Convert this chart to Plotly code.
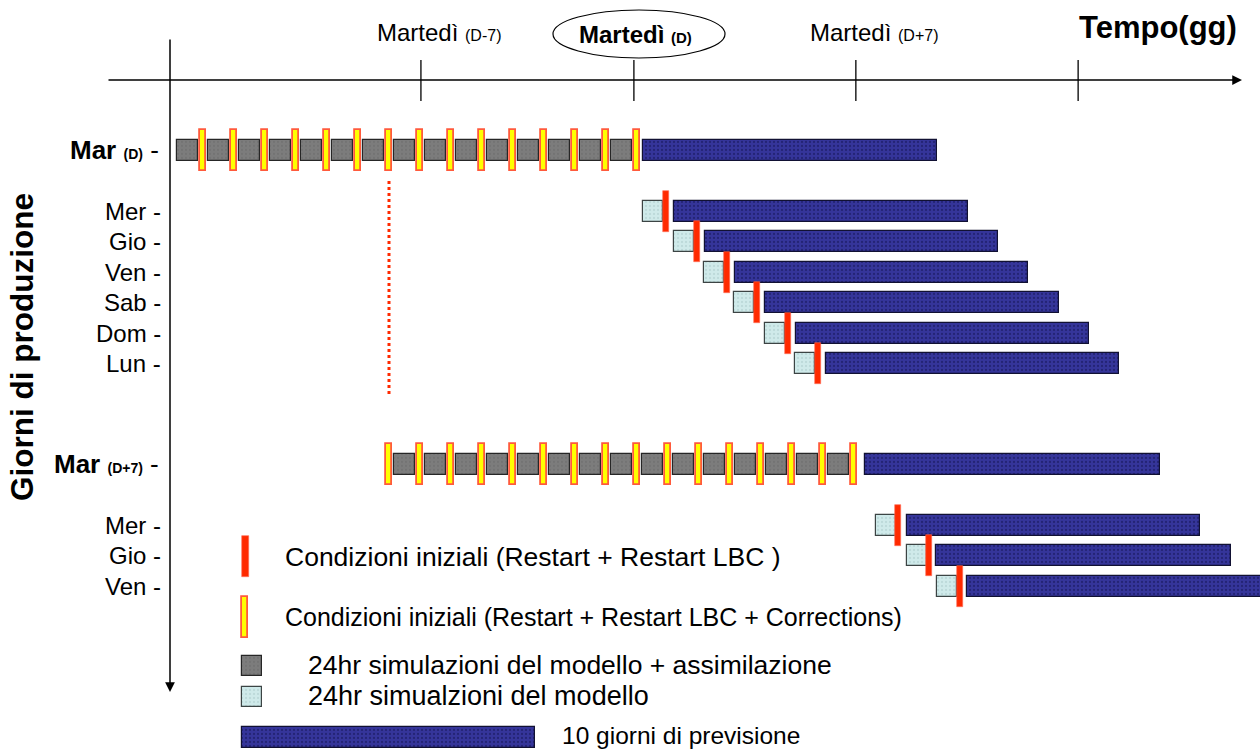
import plotly.graph_objects as go

# ---------------- data (days relative to Tuesday D; rows top->bottom) ----------------
row_names = ["Mar", "Mer", "Gio", "Ven", "Sab", "Dom", "Lun", "Mar", "Mer", "Gio", "Ven"]
row_tags = ["(D)", "", "", "", "", "", "", "(D+7)", "", "", ""]
row_pos = [0, 2, 3, 4, 5, 6, 7, 10.3, 12.3, 13.3, 14.3]

# 10-day forecast bars (start/end day for each row)
forecast_start = [0.19, 1.19, 2.19, 3.16, 4.13, 5.13, 6.10, 7.35, 8.71, 9.65, 10.65]
forecast_end = [9.68, 10.68, 11.65, 12.61, 13.61, 14.58, 15.55, 16.87, 18.16, 19.16, 20.40]

# daily runs: 24h model simulation (light cyan) + restart (red)
daily_row_pos = [2, 3, 4, 5, 6, 7, 12.3, 13.3, 14.3]
model_start = [0.19, 1.19, 2.16, 3.13, 4.13, 5.10, 7.71, 8.71, 9.68]
restart_day = [0.94, 1.94, 2.90, 3.87, 4.87, 5.84, 8.42, 9.42, 10.42]

# weekly runs: 24h simulation + assimilation (grey) and restart+corrections (yellow)
assim_days_D = [-15, -14, -13, -12, -11, -10, -9, -8, -7, -6, -5, -4, -3, -2, -1]
corr_days_D = [-14, -13, -12, -11, -10, -9, -8, -7, -6, -5, -4, -3, -2, -1, 0]
assim_days_D7 = [-8, -7, -6, -5, -4, -3, -2, -1, 0, 1, 2, 3, 4, 5, 6]
corr_days_D7 = [-8, -7, -6, -5, -4, -3, -2, -1, 0, 1, 2, 3, 4, 5, 6, 7]

tick_days = [-6.97, -0.10, 7.06, 14.23]
tick_main = ["Martedì", "Martedì", "Martedì"]
tick_tags = ["(D-7)", "(D)", "(D+7)"]

legend_texts = [
    "Condizioni iniziali (Restart + Restart LBC )",
    "Condizioni iniziali (Restart + Restart LBC + Corrections)",
    "24hr simulazioni del modello + assimilazione",
    "24hr simualzioni del modello",
    "10 giorni di previsione",
]

# ---------------- geometry / style ----------------
W, H = 1260, 749
PX0, PXD = 637.0, 31.0      # pixel of day 0, pixels per day
PY0, PYR = 150.0, 30.5      # pixel of row 0, pixels per row
def dx(px): return (px - PX0) / PXD
def dy(py): return (py - PY0) / PYR

FONT = "Liberation Sans, Arial, sans-serif"
BOX_H = 21 / PYR
MARK_H = 41 / PYR
MARK_W = 6 / PXD
BOX_OFF, BOX_W = 0.16, 0.68
CYAN_W = 0.65

BLUE = "#35359a"; BLUE_DOT = "#12124f"
GREY = "#7c7c7c"; GREY_DOT = "#6a6a6a"
CYAN = "#cfeaea"; CYAN_DOT = "#a9c9c9"
RED = "#ff2a00"; YEL = "#ffff00"; YEL_EDGE = "#ff5a3c"

fig = go.Figure()

def hbar(bases, lengths, ys, thick, color, dot=None, line_color=None, line_w=0):
    marker = dict(color=color, line=dict(color=line_color or color, width=line_w))
    if dot:
        marker["pattern"] = dict(shape=".", fgcolor=dot, bgcolor=color, size=4, solidity=0.25)
    fig.add_trace(go.Bar(orientation="h", base=bases, x=lengths, y=ys, width=thick,
                         marker=marker, showlegend=False, hoverinfo="skip"))

# forecast bars
hbar(forecast_start, [e - s for s, e in zip(forecast_start, forecast_end)], row_pos,
     BOX_H, BLUE, BLUE_DOT, "#111133", 1.2)
# daily model sims
hbar(model_start, [CYAN_W] * len(model_start), daily_row_pos, BOX_H, CYAN, CYAN_DOT, "#3c4444", 1.2)
# assimilation boxes
a_days = assim_days_D + assim_days_D7
a_rows = [row_pos[0]] * len(assim_days_D) + [row_pos[7]] * len(assim_days_D7)
hbar([d + BOX_OFF for d in a_days], [BOX_W] * len(a_days), a_rows, BOX_H, GREY, GREY_DOT, "#262626", 1.2)
# restarts (red)
hbar([d - MARK_W / 2 for d in restart_day], [MARK_W] * len(restart_day), daily_row_pos, MARK_H, RED, None, "#ff6a55", 0.6)
# restarts + corrections (yellow)
c_days = corr_days_D + corr_days_D7
c_rows = [row_pos[0]] * len(corr_days_D) + [row_pos[7]] * len(corr_days_D7)
hbar([d - MARK_W / 2 for d in c_days], [MARK_W] * len(c_days), c_rows, MARK_H, YEL, None, YEL_EDGE, 1.8)

# legend glyphs
LX = dx(242)
ly = [dy(556), dy(617), dy(666), dy(697), dy(737)]
hbar([LX], [MARK_W * 1.1], [ly[0]], MARK_H, RED, None, "#ff6a55", 0.6)
hbar([LX], [MARK_W], [ly[1]], MARK_H, YEL, None, YEL_EDGE, 1.8)
hbar([LX], [20 / PXD], [ly[2]], 20 / PYR, GREY, GREY_DOT, "#262626", 1.2)
hbar([LX], [20 / PXD], [ly[3]], 20 / PYR, CYAN, CYAN_DOT, "#3c4444", 1.2)
hbar([LX], [293 / PXD], [ly[4]], 21 / PYR, BLUE, BLUE_DOT, "#111133", 1.2)

ann = []
def text(x, y, s, size, xanchor="left", angle=0, yanchor="middle"):
    ann.append(dict(x=x, y=y, xref="x", yref="y", text=s, showarrow=False, xanchor=xanchor,
                    yanchor=yanchor, textangle=angle,
                    font=dict(family=FONT, size=size, color="black")))

legend_x = [dx(283), dx(283), dx(306), dx(306), dx(560)]
legend_y = [dy(557), dy(617), dy(665), dy(696), dy(735)]
legend_size = [26.5, 25, 26.5, 27, 24.5]
for lx, y, s, fs in zip(legend_x, legend_y, legend_texts, legend_size):
    text(lx, y, s, fs)

# row labels
for name, tag, y in zip(row_names, row_tags, row_pos):
    if tag:
        s = f"<b>{name}</b> <b><span style='font-size:14px'>{tag}</span></b> -"
        text(dx(161), y, s, 26, xanchor="right")
    else:
        text(dx(163), y, f"{name} -", 24, xanchor="right")

# top labels
text(dx(375), dy(32), f"{tick_main[0]} <span style='font-size:16px'>{tick_tags[0]}</span>", 24)
text(dx(577), dy(34), f"<b>{tick_main[1]}</b> <b><span style='font-size:15px'>{tick_tags[1]}</span></b>", 24)
text(dx(808), dy(32), f"{tick_main[2]} <span style='font-size:16px'>{tick_tags[2]}</span>", 24)
text(dx(1077), dy(27), "<b>Tempo(gg)</b>", 31)
text(dx(22), dy(347), "<b>Giorni di produzione</b>", 31.5, xanchor="center", angle=-90)

# axes with arrows
ann.append(dict(x=dx(1242), y=dy(80), ax=dx(107), ay=dy(80), xref="x", yref="y", axref="x", ayref="y",
                text="", showarrow=True, arrowhead=2, arrowsize=1.3, arrowwidth=1.5, arrowcolor="black"))
ann.append(dict(x=dx(170), y=dy(692), ax=dx(170), ay=dy(38), xref="x", yref="y", axref="x", ayref="y",
                text="", showarrow=True, arrowhead=2, arrowsize=1.3, arrowwidth=1.5, arrowcolor="black"))

shapes = []
for t in tick_days:
    shapes.append(dict(type="line", xref="x", yref="y", x0=t, x1=t, y0=dy(60), y1=dy(101),
                       line=dict(color="black", width=1.3)))
# ellipse around Martedì (D)
shapes.append(dict(type="circle", xref="x", yref="y", x0=dx(553), x1=dx(725), y0=dy(10), y1=dy(58),
                   line=dict(color="black", width=1.2)))
# dotted link between D row and D+7 row
shapes.append(dict(type="line", xref="x", yref="y", x0=corr_days_D7[0], x1=corr_days_D7[0],
                   y0=dy(181), y1=dy(396), line=dict(color=RED, width=3, dash="dot")))

fig.update_layout(
    width=W, height=H, margin=dict(l=0, r=0, t=0, b=0),
    paper_bgcolor="white", plot_bgcolor="white",
    barmode="overlay", bargap=0,
    xaxis=dict(range=[dx(0), dx(W)], visible=False, fixedrange=True),
    yaxis=dict(range=[dy(H), dy(0)], visible=False, fixedrange=True),
    annotations=ann, shapes=shapes,
)

fig.write_html("out.html", config={"displayModeBar": False},
               post_script="document.body.style.margin='0';document.body.style.overflow='hidden';")
